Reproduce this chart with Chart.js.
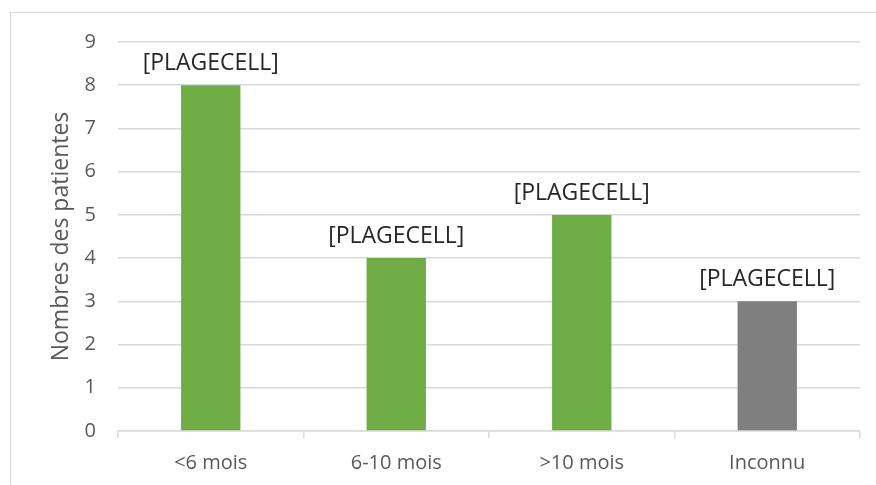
<!DOCTYPE html>
<html>
<head>
<meta charset="utf-8">
<script src="https://cdn.jsdelivr.net/npm/chart.js@4/dist/chart.umd.min.js"></script>
<style>
  html, body { margin: 0; padding: 0; background: #fff; overflow: hidden; }
  #frame {
    position: absolute; left: 10px; top: 12px; width: 900px; height: 500px;
    border: 1.5px solid #d9d9d9; box-sizing: border-box;
  }
  #wrap { position: absolute; left: 0; top: 0; width: 876px; height: 485px; }
</style>
</head>
<body>
<div id="frame"></div>
<div id="wrap"><canvas id="c" width="876" height="485"></canvas></div>
<script>
// Durée de suivi des patientes
const categories = ['<6 mois', '6-10 mois', '>10 mois', 'Inconnu'];
const patientCounts = [8, 4, 5, 3];
const barColors = ['#70ad47', '#70ad47', '#70ad47', '#7f7f7f'];
const valueLabels = ['[PLAGECELL]', '[PLAGECELL]', '[PLAGECELL]', '[PLAGECELL]'];
const yTicks = [0, 1, 2, 3, 4, 5, 6, 7, 8, 9];

const FONT = "'Open Sans', 'Noto Sans', sans-serif";

// Étiquettes au-dessus des barres
const barLabels = {
  id: 'barLabels',
  afterDatasetsDraw(chart) {
    const ctx = chart.ctx;
    const meta = chart.getDatasetMeta(0);
    ctx.save();
    ctx.font = '23px ' + FONT;
    ctx.fillStyle = '#262626';
    ctx.textAlign = 'center';
    ctx.textBaseline = 'bottom';
    meta.data.forEach((bar, i) => {
      ctx.fillText(valueLabels[i], bar.x, bar.y - 10);
    });
    ctx.restore();
  }
};

new Chart(document.getElementById('c'), {
  type: 'bar',
  data: {
    labels: categories,
    datasets: [{
      data: patientCounts,
      backgroundColor: barColors,
      borderWidth: 0,
      barPercentage: 0.32,
      categoryPercentage: 1.0
    }]
  },
  options: {
    responsive: false,
    animation: false,
    devicePixelRatio: 1,
    layout: { padding: { left: 48, right: 16, top: 42, bottom: 0 } },
    plugins: { legend: { display: false }, tooltip: { enabled: false } },
    scales: {
      x: {
        offset: true,
        afterFit(scale) { scale.height = 54; },
        grid: {
          offset: true, drawOnChartArea: false, drawTicks: true,
          tickLength: 7, color: '#d9d9d9', lineWidth: 1.5
        },
        border: { color: '#d9d9d9', width: 1.5 },
        ticks: { color: '#595959', font: { family: FONT, size: 20 }, padding: 13 }
      },
      y: {
        min: 0, max: 9,
        afterBuildTicks(axis) { axis.ticks = yTicks.map(v => ({ value: v })); },
        afterFit(scale) { scale.width = 70; },
        grid: { color: '#d9d9d9', lineWidth: 1.5, drawTicks: false },
        border: { display: false },
        ticks: { color: '#595959', font: { family: FONT, size: 20 }, padding: 22 },
        title: {
          display: true, text: 'Nombres des patientes', color: '#595959',
          font: { family: FONT, size: 23 }, padding: { top: 0, bottom: 0 }
        }
      }
    }
  },
  plugins: [barLabels]
});
</script>
</body>
</html>
